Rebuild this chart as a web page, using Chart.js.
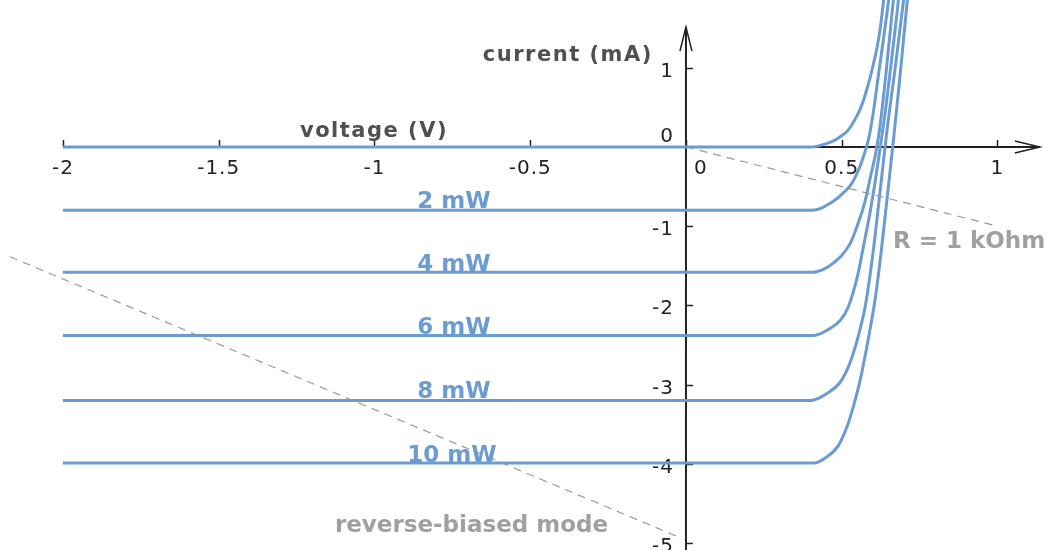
<!DOCTYPE html>
<html>
<head>
<meta charset="utf-8">
<style>
  html, body { margin: 0; padding: 0; background: #ffffff; }
  #c { display: block; }
</style>
<script src="https://cdn.jsdelivr.net/npm/chart.js@4.4.1/dist/chart.umd.min.js"></script>
</head>
<body>
<canvas id="c" width="1052" height="550"></canvas>
<script>
// ---- axis ticks ----
const xTicks = [-2, -1.5, -1, -0.5, 0, 0.5, 1];
const xTickLabels = ['-2', '-1.5', '-1', '-0.5', '0', '0.5', '1'];
const yTicks = [1, 0, -1, -2, -3, -4, -5];
const yTickLabels = ['1', '0', '-1', '-2', '-3', '-4', '-5'];

// ---- I-V curves (voltage V, current mA) ----
const v0 = [-2, 0.40, 0.415, 0.44, 0.47, 0.495, 0.52, 0.537, 0.555, 0.569, 0.58, 0.592, 0.603, 0.614, 0.622, 0.630, 0.636];
const i0 = [0, 0, 0.005, 0.03, 0.07, 0.13, 0.21, 0.31, 0.44, 0.58, 0.72, 0.89, 1.07, 1.27, 1.45, 1.70, 1.90];

const v2 = [-2, 0.40, 0.43, 0.463, 0.485, 0.505, 0.52, 0.534, 0.553, 0.569, 0.585, 0.60, 0.614, 0.63, 0.646, 0.652];
const i2 = [-0.8, -0.8, -0.78, -0.71, -0.65, -0.58, -0.52, -0.45, -0.30, -0.13, 0.08, 0.40, 0.80, 1.25, 1.71, 1.90];

const v4 = [-2, 0.41, 0.453, 0.475, 0.495, 0.527, 0.553, 0.576, 0.592, 0.608, 0.62, 0.64, 0.662, 0.667];
const i4 = [-1.58, -1.58, -1.52, -1.46, -1.39, -1.22, -0.96, -0.67, -0.38, -0.10, 0.18, 0.85, 1.71, 1.90];

const v6 = [-2, 0.41, 0.463, 0.495, 0.521, 0.55, 0.569, 0.592, 0.608, 0.62, 0.64, 0.66, 0.678, 0.683];
const i6 = [-2.38, -2.38, -2.29, -2.19, -2.02, -1.64, -1.27, -0.80, -0.42, -0.10, 0.45, 1.10, 1.71, 1.90];

const v8 = [-2, 0.40, 0.457, 0.495, 0.521, 0.543, 0.56, 0.576, 0.60, 0.62, 0.645, 0.67, 0.694, 0.70];
const i8 = [-3.2, -3.2, -3.10, -2.97, -2.78, -2.53, -2.28, -2.00, -1.35, -0.67, 0.20, 0.95, 1.71, 1.90];

const v10 = [-2, 0.41, 0.453, 0.489, 0.518, 0.537, 0.56, 0.576, 0.592, 0.608, 0.625, 0.645, 0.665, 0.686, 0.707, 0.712];
const i10 = [-3.99, -3.99, -3.91, -3.77, -3.52, -3.28, -2.93, -2.62, -2.28, -1.90, -1.38, -0.67, 0.05, 0.85, 1.71, 1.90];

// ---- dashed load lines ----
const loadV = [0, 1.0];
const loadI = [0, -1.0];
const reverseV = [-2.17, -0.02];
const reverseI = [-1.385, -4.93];

// ---- text annotations (data coordinates) ----
const powerLabels = ['2 mW', '4 mW', '6 mW', '8 mW', '10 mW'];
const powerLabelV = [-0.745, -0.745, -0.745, -0.745, -0.751];
const powerLabelI = [-0.77, -1.566, -2.36, -3.17, -3.98];

const grayNotes = ['R = 1 kOhm', 'reverse-biased mode'];
const grayNoteV = [0.6645, -1.127];
const grayNoteI = [-1.275, -4.861];

const axisTitles = ['voltage (V)', 'current (mA)'];
const axisTitleV = [-1.239, -0.652];
const axisTitleI = [0.126, 1.086];

function pts(vs, is) { return vs.map((v, k) => ({ x: v, y: is[k] })); }

const BLUE = '#6a9bd1';
function curve(vs, is) {
  return {
    data: pts(vs, is), showLine: true, borderColor: BLUE, borderWidth: 3,
    pointRadius: 0, cubicInterpolationMode: 'monotone', fill: false
  };
}
function dashed(vs, is) {
  return {
    data: pts(vs, is), showLine: true, borderColor: '#9a9a9a', borderWidth: 1.2,
    borderDash: [8, 6], pointRadius: 0, fill: false
  };
}

const axesPlugin = {
  id: 'centerAxes',
  beforeDatasetsDraw(chart) {
    const ctx = chart.ctx, xs = chart.scales.x, ys = chart.scales.y;
    const x0 = xs.getPixelForValue(0), y0 = ys.getPixelForValue(0);
    ctx.save();
    ctx.strokeStyle = '#222222';
    ctx.fillStyle = '#222222';
    ctx.lineWidth = 2;
    // x axis
    const xStart = xs.getPixelForValue(-2), xEnd = xs.getPixelForValue(1.136);
    ctx.beginPath(); ctx.moveTo(xStart, y0); ctx.lineTo(xEnd, y0); ctx.stroke();
    ctx.lineWidth = 1.5;
    ctx.beginPath();
    ctx.moveTo(xEnd - 25, y0 - 6); ctx.lineTo(xEnd, y0); ctx.lineTo(xEnd - 25, y0 + 6);
    ctx.stroke();
    // y axis
    const yTop = ys.getPixelForValue(1.515), yBot = chart.chartArea.bottom;
    ctx.lineWidth = 2;
    ctx.beginPath(); ctx.moveTo(x0, yBot); ctx.lineTo(x0, yTop); ctx.stroke();
    ctx.lineWidth = 1.5;
    ctx.beginPath();
    ctx.moveTo(x0 - 6, yTop + 24); ctx.lineTo(x0, yTop); ctx.lineTo(x0 + 6, yTop + 24);
    ctx.stroke();
    // ticks
    ctx.lineWidth = 1.5;
    xTicks.forEach(v => {
      const px = Math.round(xs.getPixelForValue(v)) + 0.5;
      ctx.beginPath(); ctx.moveTo(px, y0); ctx.lineTo(px, y0 - 7); ctx.stroke();
    });
    yTicks.forEach(v => {
      if (v === 0) return;
      const py = Math.round(ys.getPixelForValue(v)) + 0.5;
      ctx.beginPath(); ctx.moveTo(x0, py); ctx.lineTo(x0 + 7, py); ctx.stroke();
    });
    // tick labels
    ctx.font = '20px "DejaVu Sans"';
    try { ctx.letterSpacing = '1px'; } catch (e) {}
    ctx.textBaseline = 'alphabetic';
    ctx.textAlign = 'center';
    xTicks.forEach((v, k) => {
      let px = xs.getPixelForValue(v);
      if (v === 0) px += 15;
      ctx.fillText(xTickLabels[k], px, y0 + 27);
    });
    ctx.textAlign = 'right';
    yTicks.forEach((v, k) => {
      const py = ys.getPixelForValue(v);
      const by = (v === 0) ? py - 5 : py + 9;
      ctx.fillText(yTickLabels[k], x0 - 12, by);
    });
    ctx.restore();
  },
  afterDatasetsDraw(chart) {
    const ctx = chart.ctx, xs = chart.scales.x, ys = chart.scales.y;
    ctx.save();
    ctx.textBaseline = 'alphabetic';
    ctx.font = 'bold 23px "DejaVu Sans"';
    ctx.fillStyle = BLUE;
    ctx.textAlign = 'center';
    powerLabels.forEach((t, k) => {
      ctx.fillText(t, xs.getPixelForValue(powerLabelV[k]), ys.getPixelForValue(powerLabelI[k]));
    });
    ctx.textAlign = 'left';
    ctx.fillStyle = '#a0a0a0';
    grayNotes.forEach((t, k) => {
      ctx.fillText(t, xs.getPixelForValue(grayNoteV[k]), ys.getPixelForValue(grayNoteI[k]));
    });
    ctx.fillStyle = '#505050';
    ctx.font = 'bold 21px "DejaVu Sans"';
    try { ctx.letterSpacing = '1.5px'; } catch (e) {}
    axisTitles.forEach((t, k) => {
      ctx.fillText(t, xs.getPixelForValue(axisTitleV[k]), ys.getPixelForValue(axisTitleI[k]));
    });
    ctx.restore();
  }
};

new Chart(document.getElementById('c'), {
  type: 'scatter',
  data: {
    datasets: [
      dashed(loadV, loadI),
      dashed(reverseV, reverseI),
      curve(v0, i0),
      curve(v2, i2),
      curve(v4, i4),
      curve(v6, i6),
      curve(v8, i8),
      curve(v10, i10)
    ]
  },
  options: {
    responsive: false,
    animation: false,
    events: [],
    layout: { padding: 0 },
    plugins: { legend: { display: false }, tooltip: { enabled: false } },
    scales: {
      x: { type: 'linear', min: -2.202, max: 1.175, display: false },
      y: { type: 'linear', min: -5.088, max: 1.856, display: false }
    }
  },
  plugins: [axesPlugin]
});
</script>
</body>
</html>
